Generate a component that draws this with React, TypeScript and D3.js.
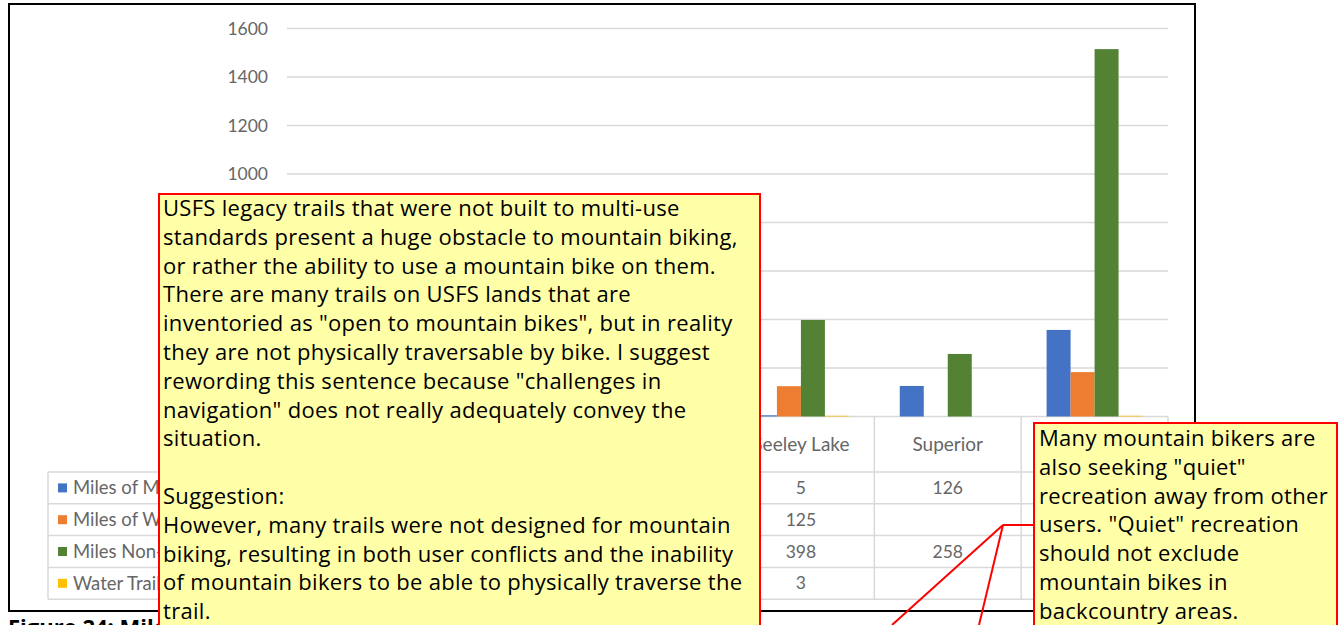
import React from 'react';
import * as d3 from 'd3';

const categories = ['Missoula', 'Ninemile', 'Plains/Thompson Falls', 'Seeley Lake', 'Superior', 'Total'];
const seriesNames = ['Miles of Motorized Trail', 'Miles of Wilderness Trail', 'Miles Non-Motorized Trail', 'Water Trail Miles'];
const motorized = [120, 40, 66, 5, 126, 357];
const wilderness = [20, null, 38, 125, null, 183];
const nonMotorized = [290, 195, 374, 398, 258, 1515];
const water = [null, null, null, 3, null, 3];
const yTicks = [0, 200, 400, 600, 800, 1000, 1200, 1400, 1600];
const colors = ['#4472C4', '#ED7D31', '#548235', '#FFC000'];

const bigComment = [
  'USFS legacy trails that were not built to multi-use',
  'standards present a huge obstacle to mountain biking,',
  'or rather the ability to use a mountain bike on them.',
  'There are many trails on USFS lands that are',
  'inventoried as "open to mountain bikes", but in reality',
  'they are not physically traversable by bike. I suggest',
  'rewording this sentence because "challenges in',
  'navigation" does not really adequately convey the',
  'situation.',
  '',
  'Suggestion:',
  'However, many trails were not designed for mountain',
  'biking, resulting in both user conflicts and the inability',
  'of mountain bikers to be able to physically traverse the',
  'trail.',
];
const smallComment = [
  'Many mountain bikers are',
  'also seeking "quiet"',
  'recreation away from other',
  'users. "Quiet" recreation',
  'should not exclude',
  'mountain bikes in',
  'backcountry areas.',
];

const W = 1343;
const H = 625;

export default function App() {
  const series = [motorized, wilderness, nonMotorized, water];
  const plot = { left: 287, right: 1168, top: 28.5, bottom: 416.5 };
  const x = d3.scaleBand<string>().domain(categories).range([plot.left, plot.right]);
  const xs = d3.scaleBand<number>().domain([0, 1, 2, 3]).range([0, x.bandwidth()]).paddingInner(0).paddingOuter(1.06);
  const y = d3.scaleLinear().domain([0, 1600]).range([plot.bottom, plot.top]);

  const tableLeft = 48;
  const headerBottom = 472;
  const rowH = 31.8;
  const tableBottom = headerBottom + rowH * 4;
  const chartFont = 'Lato, "Open Sans", sans-serif';
  const noteFont = '"Open Sans", "Noto Sans", sans-serif';
  const gray = '#666';
  const gridC = '#d9d9d9';

  const joint = { x: 1003, y: 525 };

  return (
    <svg width={W} height={H} style={{ position: 'absolute', left: 0, top: 0, background: '#fff' }}>
      {/* chart frame */}
      <rect x={9} y={4} width={1186} height={607} fill="#fff" stroke="#000" strokeWidth={2} />

      {/* gridlines and y labels */}
      {yTicks.map(t => (
        <g key={t}>
          <line x1={plot.left} x2={plot.right} y1={y(t)} y2={y(t)} stroke={gridC} strokeWidth={1.5} />
          <text x={268} y={y(t)} dy="0.35em" textAnchor="end" fontFamily={chartFont} fontSize={17.5} fill={gray}>{t}</text>
        </g>
      ))}

      {/* bars */}
      {categories.map((c, i) => (
        <g key={c} transform={`translate(${x(c)},0)`}>
          {series.map((s, j) => s[i] == null ? null : (
            <rect key={j} x={xs(j)} width={xs.bandwidth()} y={y(s[i] as number)}
              height={y(0) - y(s[i] as number)} fill={colors[j]} />
          ))}
        </g>
      ))}

      {/* data table */}
      <g fontFamily={chartFont} fontSize={17.5} fill={gray}>
        {d3.range(5).map(r => (
          <line key={r} x1={tableLeft} x2={plot.right} y1={headerBottom + r * rowH} y2={headerBottom + r * rowH} stroke={gridC} strokeWidth={1.5} />
        ))}
        <line x1={tableLeft} x2={tableLeft} y1={headerBottom} y2={tableBottom} stroke={gridC} strokeWidth={1.5} />
        {categories.map(c => (
          <line key={c} x1={x(c)} x2={x(c)} y1={plot.bottom} y2={tableBottom} stroke={gridC} strokeWidth={1.5} />
        ))}
        <line x1={plot.right} x2={plot.right} y1={plot.bottom} y2={tableBottom} stroke={gridC} strokeWidth={1.5} />
        {categories.map(c => (
          <text key={c} x={(x(c) as number) + x.bandwidth() / 2} y={444} dy="0.35em" textAnchor="middle" fontSize={19}>{c}</text>
        ))}
        {seriesNames.map((n, j) => (
          <g key={n}>
            <rect x={58} y={headerBottom + j * rowH + rowH / 2 - 4.5} width={9} height={9} fill={colors[j]} />
            <text x={73} y={headerBottom + j * rowH + rowH / 2} dy="0.35em" fontSize={18.5}>{n}</text>
          </g>
        ))}
        {series.map((s, j) => categories.map((c, i) => s[i] == null ? null : (
          <text key={`${j}-${c}`} x={(x(c) as number) + x.bandwidth() / 2} y={headerBottom + j * rowH + rowH / 2}
            dy="0.35em" textAnchor="middle">{s[i]}</text>
        )))}
      </g>

      {/* caption under the chart */}
      <text x={8} y={635} fontFamily={noteFont} fontWeight="bold" fontSize={22} fill="#000">Figure 24: Miles of trails by ranger district</text>

      {/* comment balloons */}
      <rect x={159} y={194} width={601} height={450} fill="#FFFFA8" stroke="#FF0000" strokeWidth={2} />
      <g fontFamily={noteFont} fontSize={22} fill="#000" letterSpacing={0.3}>
        {bigComment.map((l, i) => (
          <text key={i} x={163} y={216 + i * 28.8}>{l}</text>
        ))}
      </g>
      <rect x={1034} y={423} width={303} height={220} fill="#FFFFA8" stroke="#FF0000" strokeWidth={2} />
      <g fontFamily={noteFont} fontSize={22} fill="#000" letterSpacing={0.3}>
        {smallComment.map((l, i) => (
          <text key={i} x={1039} y={446 + i * 28.8}>{l}</text>
        ))}
      </g>

      {/* connector lines */}
      <g stroke="#FF0000" strokeWidth={2} fill="none">
        <line x1={1033} y1={joint.y} x2={joint.x} y2={joint.y} />
        <line x1={joint.x} y1={joint.y} x2={892} y2={625} />
        <line x1={joint.x} y1={joint.y} x2={979} y2={625} />
      </g>
    </svg>
  );
}
